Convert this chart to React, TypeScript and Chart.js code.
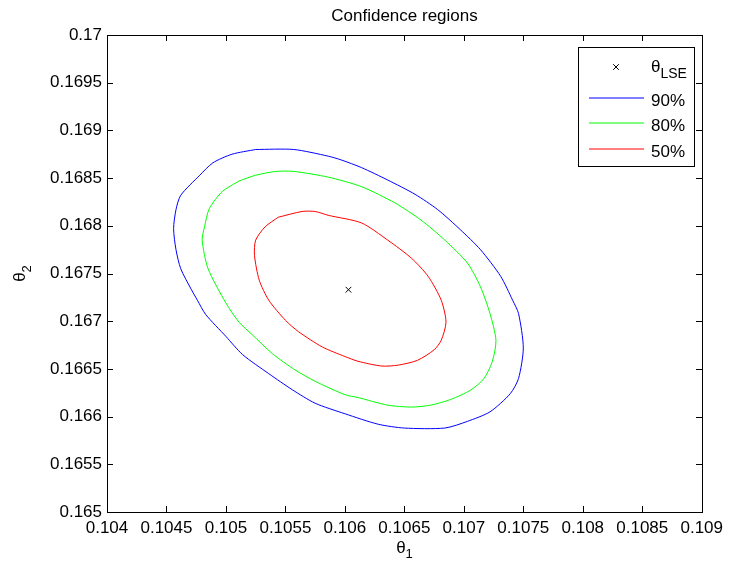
import React, { useEffect, useRef } from "react";
import { Chart, registerables } from "chart.js";

Chart.register(...registerables);

const W = 729;
const H = 569;
const FONT = '"Liberation Sans", Arial, Helvetica, sans-serif';

// ---- tick labels ----
const xTickValues = [0.104, 0.1045, 0.105, 0.1055, 0.106, 0.1065, 0.107, 0.1075, 0.108, 0.1085, 0.109];
const yTickValues = [0.165, 0.1655, 0.166, 0.1665, 0.167, 0.1675, 0.168, 0.1685, 0.169, 0.1695, 0.17];

// ---- texts ----
const chartTitle = "Confidence regions";
const xAxisTitle = { main: "θ", sub: "1" };
const yAxisTitle = { main: "θ", sub: "2" };

// ---- least squares estimate ----
const lseTheta1 = [0.10603];
const lseTheta2 = [0.16733];

// ---- 90% region ----
const region90Theta1 = [0.10525, 0.10557, 0.10586, 0.10597, 0.10614, 0.10636, 0.10659, 0.10678, 0.10697, 0.10714, 0.10731, 0.10741, 0.10746, 0.1075, 0.10746, 0.10739, 0.10722, 0.10703, 0.10684, 0.1065, 0.10628, 0.106, 0.10575, 0.10556, 0.10536, 0.10514, 0.105, 0.10483, 0.10476, 0.10471, 0.10462, 0.10458, 0.10456, 0.10458, 0.10462, 0.10478, 0.10489, 0.10505];
const region90Theta2 = [0.1688, 0.1688, 0.16873, 0.16869, 0.16861, 0.16848, 0.16833, 0.16817, 0.16796, 0.16775, 0.16747, 0.16722, 0.16708, 0.16672, 0.1664, 0.16624, 0.16605, 0.16595, 0.16588, 0.16588, 0.16592, 0.16603, 0.16614, 0.16628, 0.16645, 0.16665, 0.16684, 0.16707, 0.16722, 0.16733, 0.16755, 0.16775, 0.16797, 0.16817, 0.16832, 0.16853, 0.16866, 0.16875];

// ---- 80% region ----
const region80Theta1 = [0.10511, 0.10525, 0.10542, 0.10557, 0.10586, 0.10614, 0.10642, 0.10664, 0.10684, 0.10703, 0.10714, 0.10722, 0.10727, 0.10724, 0.10717, 0.10706, 0.10689, 0.10672, 0.10656, 0.10636, 0.10611, 0.106, 0.10575, 0.10558, 0.10539, 0.10522, 0.10511, 0.105, 0.10485, 0.1048, 0.10482, 0.10486, 0.10497];
const region80Theta2 = [0.16847, 0.16853, 0.16857, 0.16857, 0.16851, 0.16841, 0.16824, 0.16806, 0.16785, 0.16761, 0.16736, 0.16708, 0.1668, 0.16658, 0.1664, 0.16628, 0.16618, 0.16612, 0.1661, 0.16612, 0.1662, 0.16623, 0.16637, 0.16649, 0.16666, 0.16686, 0.16699, 0.16719, 0.16755, 0.16785, 0.16799, 0.16818, 0.16836];

// ---- 50% region ----
const region50Theta1 = [0.10544, 0.10564, 0.10575, 0.10586, 0.10614, 0.10636, 0.10656, 0.1067, 0.10681, 0.10685, 0.10681, 0.10675, 0.10661, 0.10645, 0.10631, 0.10611, 0.106, 0.10581, 0.10561, 0.1055, 0.10536, 0.10528, 0.10524, 0.10525, 0.10533];
const region50Theta2 = [0.16809, 0.16815, 0.16815, 0.16811, 0.16803, 0.16785, 0.16766, 0.16747, 0.16722, 0.16699, 0.1668, 0.1667, 0.16659, 0.16654, 0.16653, 0.16658, 0.16663, 0.16673, 0.16689, 0.16701, 0.16722, 0.16743, 0.16769, 0.16785, 0.16799];

// ---- legend ----
const legendMain = ["θ", "90%", "80%", "50%"];
const legendSub = ["LSE", "", "", ""];
const seriesColors = ["#000000", "#0000ff", "#00ff00", "#ff0000"];

const toPoints = (xs: number[], ys: number[]) => xs.map((x, i) => ({ x, y: ys[i] }));
const closed = (xs: number[], ys: number[]) => {
  const p = toPoints(xs, ys);
  return p.concat([p[0]]);
};

const fmt = (v: number | string) => String(Number(Number(v).toFixed(5)));

function drawSubText(
  ctx: CanvasRenderingContext2D,
  main: string,
  sub: string,
  x: number,
  y: number,
  size: number,
  subSize: number,
  drop: number
) {
  ctx.font = `${size}px ${FONT}`;
  ctx.textAlign = "left";
  ctx.textBaseline = "alphabetic";
  ctx.fillText(main, x, y);
  const w = ctx.measureText(main).width;
  if (sub) {
    ctx.font = `${subSize}px ${FONT}`;
    ctx.fillText(sub, x + w, y + drop);
  }
}

function textWidth(ctx: CanvasRenderingContext2D, main: string, sub: string, size: number, subSize: number) {
  ctx.font = `${size}px ${FONT}`;
  let w = ctx.measureText(main).width;
  ctx.font = `${subSize}px ${FONT}`;
  w += ctx.measureText(sub).width;
  return w;
}

const framePlugin = {
  id: "matlabFrame",
  afterDraw(chart: any) {
    const { ctx, chartArea: a, scales } = chart;
    const L = Math.round(a.left);
    const R = Math.round(a.right);
    const T = Math.round(a.top);
    const B = Math.round(a.bottom);
    ctx.save();
    ctx.strokeStyle = "#000";
    ctx.lineWidth = 1;
    ctx.strokeRect(L + 0.5, T + 0.5, R - L, B - T);
    ctx.beginPath();
    xTickValues.forEach((v) => {
      const px = Math.round(scales.x.getPixelForValue(v)) + 0.5;
      ctx.moveTo(px, B);
      ctx.lineTo(px, B - 6);
      ctx.moveTo(px, T);
      ctx.lineTo(px, T + 6);
    });
    yTickValues.forEach((v) => {
      const py = Math.round(scales.y.getPixelForValue(v)) + 0.5;
      ctx.moveTo(L, py);
      ctx.lineTo(L + 6, py);
      ctx.moveTo(R, py);
      ctx.lineTo(R - 6, py);
    });
    ctx.stroke();

    ctx.fillStyle = "#000";
    // title
    ctx.font = `17px ${FONT}`;
    ctx.textAlign = "center";
    ctx.textBaseline = "alphabetic";
    ctx.fillText(chartTitle, (L + R) / 2, 21);

    // x axis title
    const cx = (L + R) / 2;
    const xw = textWidth(ctx, xAxisTitle.main, xAxisTitle.sub, 17, 13);
    drawSubText(ctx, xAxisTitle.main, xAxisTitle.sub, cx - xw / 2, 553, 17, 13, 5);

    // y axis title (rotated)
    const cy = (T + B) / 2;
    const yw = textWidth(ctx, yAxisTitle.main, yAxisTitle.sub, 17, 13);
    ctx.save();
    ctx.translate(25, cy);
    ctx.rotate(-Math.PI / 2);
    drawSubText(ctx, yAxisTitle.main, yAxisTitle.sub, -yw / 2, 0, 17, 13, 6);
    ctx.restore();

    // legend
    const bl = R - 124;
    const br = R - 8;
    const bt = T + 12;
    const bb = T + 131;
    ctx.fillStyle = "#fff";
    ctx.fillRect(bl, bt, br - bl, bb - bt);
    ctx.strokeStyle = "#000";
    ctx.strokeRect(bl + 0.5, bt + 0.5, br - bl, bb - bt);
    const rowY = [T + 32, T + 63, T + 88, T + 114];
    const baseY = [T + 37, T + 71, T + 96, T + 122];
    legendMain.forEach((label, i) => {
      ctx.lineWidth = 1;
      if (i === 0) {
        ctx.strokeStyle = "#000000";
        const mx = bl + 38;
        const my = rowY[i];
        const r = 2.8;
        ctx.beginPath();
        ctx.moveTo(mx - r, my - r);
        ctx.lineTo(mx + r, my + r);
        ctx.moveTo(mx - r, my + r);
        ctx.lineTo(mx + r, my - r);
        ctx.stroke();
      } else {
        ctx.strokeStyle = seriesColors[i];
        ctx.beginPath();
        ctx.moveTo(bl + 11, rowY[i]);
        ctx.lineTo(bl + 66, rowY[i]);
        ctx.stroke();
      }
      ctx.fillStyle = "#000000";
      drawSubText(ctx, label, legendSub[i], bl + 73, baseY[i], 17, 14, 6);
    });
    ctx.restore();
  },
};

export default function App() {
  const ref = useRef<HTMLCanvasElement>(null);
  useEffect(() => {
    if (!ref.current) return;
    const tickFont = { family: FONT, size: 17 };
    const lineDs = (label: string, data: any[], color: string) => ({
      label,
      data,
      showLine: true,
      pointRadius: 0,
      borderColor: color,
      borderWidth: 1,
      tension: 0.25,
      fill: false,
    });
    const chart = new Chart(ref.current, {
      type: "scatter",
      data: {
        datasets: [
          {
            label: "θLSE",
            data: toPoints(lseTheta1, lseTheta2),
            showLine: false,
            pointStyle: "crossRot",
            pointRadius: 4,
            borderColor: seriesColors[0],
            backgroundColor: seriesColors[0],
            borderWidth: 1,
          },
          lineDs("90%", closed(region90Theta1, region90Theta2), seriesColors[1]),
          lineDs("80%", closed(region80Theta1, region80Theta2), seriesColors[2]),
          lineDs("50%", closed(region50Theta1, region50Theta2), seriesColors[3]),
        ],
      } as any,
      options: {
        animation: false,
        responsive: false,
        maintainAspectRatio: false,
        devicePixelRatio: 1,
        layout: { padding: { left: 0, right: 23, top: 35, bottom: 0 } },
        plugins: {
          legend: { display: false },
          title: { display: false },
          tooltip: { enabled: false },
        },
        scales: {
          x: {
            type: "linear",
            position: "bottom",
            min: 0.104,
            max: 0.109,
            grid: { display: false, drawTicks: false, tickLength: 0 },
            border: { display: false },
            ticks: {
              font: tickFont,
              color: "#000",
              padding: 6,
              maxRotation: 0,
              autoSkip: false,
              callback: (v: any) => fmt(v),
            },
            afterBuildTicks: (s: any) => {
              s.ticks = xTickValues.map((v) => ({ value: v }));
            },
            afterFit: (s: any) => {
              s.height = 57;
            },
          },
          y: {
            type: "linear",
            position: "left",
            min: 0.165,
            max: 0.17,
            grid: { display: false, drawTicks: false, tickLength: 0 },
            border: { display: false },
            ticks: {
              font: tickFont,
              color: "#000",
              padding: 5,
              autoSkip: false,
              callback: (v: any) => fmt(v),
            },
            afterBuildTicks: (s: any) => {
              s.ticks = yTickValues.map((v) => ({ value: v }));
            },
            afterFit: (s: any) => {
              s.width = 107;
            },
          },
        },
      } as any,
      plugins: [framePlugin],
    });
    return () => chart.destroy();
  }, []);
  return (
    <div style={{ position: "fixed", left: 0, top: 0, width: W, height: H, background: "#fff" }}>
      <canvas ref={ref} width={W} height={H} style={{ display: "block", width: W, height: H }} />
    </div>
  );
}
